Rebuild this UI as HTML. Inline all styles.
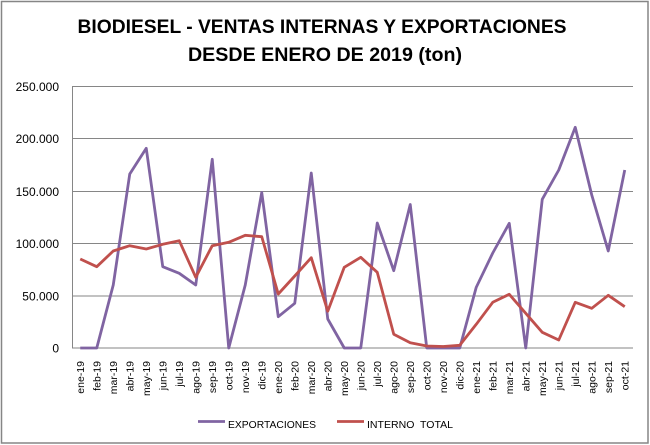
<!DOCTYPE html>
<html><head><meta charset="utf-8"><style>
html,body{margin:0;padding:0;background:#fff;}
svg{display:block;}
text{font-family:"Liberation Sans",Arial,sans-serif;fill:#000;}
</style></head><body>
<svg width="650" height="445" viewBox="0 0 650 445" xmlns="http://www.w3.org/2000/svg">
<rect x="0" y="0" width="650" height="445" fill="#fff"/>
<rect x="1.5" y="1.5" width="646.5" height="441.5" fill="none" stroke="#868686" stroke-width="1.5"/>
<text x="322" y="33" font-size="19.5" font-weight="bold" text-anchor="middle" textLength="489" lengthAdjust="spacingAndGlyphs">BIODIESEL - VENTAS INTERNAS Y EXPORTACIONES</text>
<text x="325" y="61" font-size="19.5" font-weight="bold" text-anchor="middle" textLength="274" lengthAdjust="spacingAndGlyphs">DESDE ENERO DE 2019 (ton)</text>
<g stroke="#868686" stroke-width="1">
<line x1="72" y1="86.5" x2="633" y2="86.5"/>
<line x1="72" y1="138.5" x2="633" y2="138.5"/>
<line x1="72" y1="191.5" x2="633" y2="191.5"/>
<line x1="72" y1="243.5" x2="633" y2="243.5"/>
<line x1="72" y1="296" x2="633" y2="296"/>
<line x1="72" y1="348" x2="633" y2="348"/>
<line x1="72.5" y1="86" x2="72.5" y2="348"/>
</g>
<g font-size="12" text-anchor="end">
<text x="59" y="91">250.000</text>
<text x="59" y="143">200.000</text>
<text x="59" y="196">150.000</text>
<text x="59" y="248">100.000</text>
<text x="59" y="300.5">50.000</text>
<text x="59" y="352.5">0</text>
</g>
<g font-size="10.5" text-anchor="end">
<text transform="translate(84,361) rotate(-90)">ene-19</text>
<text transform="translate(100.5,361) rotate(-90)">feb-19</text>
<text transform="translate(117,361) rotate(-90)">mar-19</text>
<text transform="translate(133.5,361) rotate(-90)">abr-19</text>
<text transform="translate(150,361) rotate(-90)">may-19</text>
<text transform="translate(166.5,361) rotate(-90)">jun-19</text>
<text transform="translate(183,361) rotate(-90)">jul-19</text>
<text transform="translate(199.5,361) rotate(-90)">ago-19</text>
<text transform="translate(216,361) rotate(-90)">sep-19</text>
<text transform="translate(232.5,361) rotate(-90)">oct-19</text>
<text transform="translate(249,361) rotate(-90)">nov-19</text>
<text transform="translate(265.5,361) rotate(-90)">dic-19</text>
<text transform="translate(282,361) rotate(-90)">ene-20</text>
<text transform="translate(298.5,361) rotate(-90)">feb-20</text>
<text transform="translate(315,361) rotate(-90)">mar-20</text>
<text transform="translate(331.5,361) rotate(-90)">abr-20</text>
<text transform="translate(348,361) rotate(-90)">may-20</text>
<text transform="translate(364.5,361) rotate(-90)">jun-20</text>
<text transform="translate(381,361) rotate(-90)">jul-20</text>
<text transform="translate(397.5,361) rotate(-90)">ago-20</text>
<text transform="translate(414,361) rotate(-90)">sep-20</text>
<text transform="translate(430.5,361) rotate(-90)">oct-20</text>
<text transform="translate(447,361) rotate(-90)">nov-20</text>
<text transform="translate(463.5,361) rotate(-90)">dic-20</text>
<text transform="translate(480,361) rotate(-90)">ene-21</text>
<text transform="translate(496.5,361) rotate(-90)">feb-21</text>
<text transform="translate(513,361) rotate(-90)">mar-21</text>
<text transform="translate(529.5,361) rotate(-90)">abr-21</text>
<text transform="translate(546,361) rotate(-90)">may-21</text>
<text transform="translate(562.5,361) rotate(-90)">jun-21</text>
<text transform="translate(579,361) rotate(-90)">jul-21</text>
<text transform="translate(595.5,361) rotate(-90)">ago-21</text>
<text transform="translate(612,361) rotate(-90)">sep-21</text>
<text transform="translate(628.5,361) rotate(-90)">oct-21</text>
</g>
<polyline fill="none" stroke="#8064A2" stroke-width="2.8" stroke-linejoin="round" points="80.25,348 96.75,348 113.25,285 129.75,174 146.25,148.3 162.75,266.7 179.25,273.3 195.75,285 212.25,159.3 228.75,348 245.25,285 261.75,192.5 278.25,316.7 294.75,303.3 311.25,173 327.75,319 344.25,348 360.75,348 377.25,223 393.75,270.7 410.25,204.5 426.75,348 443.25,348 459.75,348 476.25,287.3 492.75,253 509.25,223.3 525.75,348 542.25,199.3 558.75,170 575.25,127.3 591.75,195 608.25,251 624.75,170"/>
<polyline fill="none" stroke="#C0504D" stroke-width="2.8" stroke-linejoin="round" points="80.25,259 96.75,266.7 113.25,251 129.75,245.7 146.25,249 162.75,244.3 179.25,240.7 195.75,277.3 212.25,245.7 228.75,242.3 245.25,235.3 261.75,236.7 278.25,294 294.75,276 311.25,257.7 327.75,311.2 344.25,267.3 360.75,257.3 377.25,272.3 393.75,334.2 410.25,342.7 426.75,346 443.25,346.5 459.75,345.3 476.25,324.3 492.75,302.3 509.25,294.3 525.75,313.3 542.25,332.3 558.75,340 575.25,302.3 591.75,308.3 608.25,295.3 624.75,306.7"/>
<line x1="198" y1="421.5" x2="225" y2="421.5" stroke="#8064A2" stroke-width="2.8"/>
<text x="228" y="428" font-size="10.5" textLength="88" lengthAdjust="spacingAndGlyphs">EXPORTACIONES</text>
<line x1="337" y1="421.5" x2="364" y2="421.5" stroke="#C0504D" stroke-width="2.8"/>
<text x="367" y="428" font-size="10.5" textLength="86" lengthAdjust="spacingAndGlyphs" xml:space="preserve">INTERNO  TOTAL</text>
</svg>
</body></html>
